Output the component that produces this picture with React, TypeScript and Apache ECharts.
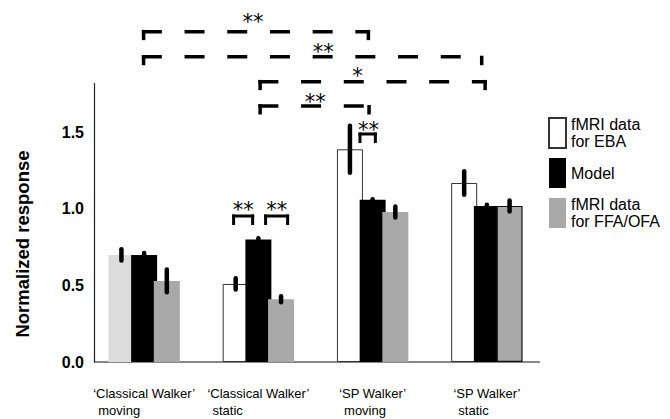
import { useEffect, useRef } from 'react';
import * as echarts from 'echarts';

// ---- data ----
const categoryNames = ['‘Classical Walker’', '‘Classical Walker’', '‘SP Walker’', '‘SP Walker’'];
const categoryStates = ['moving', 'static', 'moving', 'static'];
const seriesNames = ['fMRI data\nfor EBA', 'Model', 'fMRI data\nfor FFA/OFA'];

const ebaValues = [0.70, 0.51, 1.39, 1.17];
const ebaErrors = [0.037, 0.037, 0.154, 0.077];
const modelValues = [0.70, 0.80, 1.06, 1.02];
const modelErrors = [0.012, 0.008, 0.004, 0.008];
const ffaValues = [0.53, 0.41, 0.98, 1.02];
const ffaErrors = [0.074, 0.019, 0.036, 0.036];

const yMin = 0;
const yMax = 1.82;
const yInterval = 0.5;

// significance brackets: x in category units (0 = first category centre), y in data units
const bracketLabels = ['**', '**', '*', '**', '**', '**', '**'];
const bracketLeft = [-0.02, -0.02, 1.0, 1.0, 1.876, 0.77, 1.05];
const bracketRight = [1.978, 2.97, 3.0, 1.984, 2.037, 0.963, 1.269];
const bracketLevel = [2.159, 1.995, 1.832, 1.673, 1.49, 0.954, 0.954];
const bracketDashed = [true, true, true, true, false, false, false];
const bracketRightCorner = [true, false, true, false, true, true, true];
const bracketLabelX = [0.954, 1.567, 1.867, 1.497, 1.963, 0.867, 1.16];
const bracketLabelLevel = [2.257, 2.061, 1.902, 1.734, 1.549, 1.026, 1.026];

// ---- styling constants ----
const FONT = "'Liberation Sans', Arial, Helvetica, sans-serif";
const BAR_WIDTH = 26;
const BAR_GAP = -0.127;
const BAR_STEP = BAR_WIDTH * (1 + BAR_GAP);
const Y_AXIS_SHIFT = 7;
const AXIS_RIGHT = 540;

export default function App() {
  const ref = useRef<HTMLDivElement>(null);

  useEffect(() => {
    if (!ref.current) return;
    const chart = echarts.init(ref.current, undefined, { renderer: 'svg' });

    const errData: number[][] = [];
    const groups = [
      [ebaValues, ebaErrors],
      [modelValues, modelErrors],
      [ffaValues, ffaErrors],
    ];
    groups.forEach(([vals, errs], slot) => {
      vals.forEach((v, i) => errData.push([i, v, errs[i], slot]));
    });

    const option: any = {
      animation: false,
      grid: { left: 87, right: 126, top: 83.5, bottom: 57 },
      legend: {
        data: seriesNames,
        orient: 'vertical',
        left: 543,
        top: 111,
        icon: 'rect',
        itemWidth: 17,
        itemHeight: 30,
        itemGap: 8,
        selectedMode: false,
        textStyle: { fontSize: 16, lineHeight: 17, color: '#000', fontFamily: FONT },
      },
      xAxis: {
        type: 'category',
        data: categoryNames.map((n, i) => n + '\n' + categoryStates[i]),
        axisLine: { show: false },
        axisTick: { show: true, inside: true, alignWithLabel: true, length: 4, lineStyle: { color: '#000', width: 1 } },
        axisLabel: {
          interval: 0,
          hideOverlap: false,
          margin: 23,
          formatter: (v: string) => {
            const [a, b] = v.split('\n');
            return `{t|${a}}\n{s|${b}}`;
          },
          rich: {
            t: { fontSize: 13, lineHeight: 17, fontFamily: FONT, color: '#000' },
            s: { fontSize: 13, lineHeight: 17, fontFamily: FONT, color: '#000', align: 'left', padding: [0, 0, 0, 5] },
          },
        },
      },
      yAxis: {
        type: 'value',
        min: yMin,
        max: yMax,
        interval: yInterval,
        offset: -Y_AXIS_SHIFT,
        axisLine: { show: true, lineStyle: { color: '#222', width: 1.2 } },
        axisTick: { show: false },
        splitLine: { show: false },
        axisLabel: {
          showMaxLabel: false,
          margin: 10,
          fontSize: 16,
          fontWeight: 'bold',
          color: '#000',
          fontFamily: FONT,
          formatter: (v: number) => v.toFixed(1),
        },
      },
      series: [
        {
          name: seriesNames[0],
          type: 'bar',
          barWidth: BAR_WIDTH,
          barGap: `${BAR_GAP * 100}%`,
          itemStyle: { color: '#ffffff', borderColor: '#333', borderWidth: 1 },
          data: ebaValues.map((v, i) =>
            i === 0 ? { value: v, itemStyle: { color: '#dcdcdc', borderWidth: 0 } } : v
          ),
        },
        {
          name: seriesNames[1],
          type: 'bar',
          barWidth: BAR_WIDTH,
          barGap: `${BAR_GAP * 100}%`,
          itemStyle: { color: '#000000' },
          data: modelValues,
        },
        {
          name: seriesNames[2],
          type: 'bar',
          barWidth: BAR_WIDTH,
          barGap: `${BAR_GAP * 100}%`,
          itemStyle: { color: '#a9a9a9' },
          data: ffaValues.map((v, i) =>
            i === 3 ? { value: v, itemStyle: { borderColor: '#111', borderWidth: 1.2 } } : v
          ),
        },
        {
          name: 'error',
          type: 'custom',
          z: 5,
          silent: true,
          encode: { x: 0, y: 1 },
          data: errData,
          renderItem: (_params: any, api: any) => {
            const cat = api.value(0);
            const val = api.value(1);
            const err = api.value(2);
            const slot = api.value(3);
            const top = api.coord([cat, val + err]);
            const bot = api.coord([cat, val - err]);
            const dx = (slot - 1) * BAR_STEP;
            return {
              type: 'line',
              shape: { x1: top[0] + dx, y1: top[1], x2: bot[0] + dx, y2: bot[1] },
              style: { stroke: '#000', lineWidth: 4.5, lineCap: 'round' },
            };
          },
        },
      ],
    };

    chart.setOption(option);

    const p0 = chart.convertToPixel({ xAxisIndex: 0 } as any, 0) as unknown as number;
    const p1 = chart.convertToPixel({ xAxisIndex: 0 } as any, 1) as unknown as number;
    const cx = (u: number) => p0 + u * (p1 - p0);
    const cy = (v: number) => chart.convertToPixel({ yAxisIndex: 0 } as any, v) as unknown as number;
    const yAxisX = 87 + Y_AXIS_SHIFT;

    const graphic: any[] = [
      {
        type: 'text',
        x: 22,
        y: 244,
        rotation: Math.PI / 2,
        style: {
          text: 'Normalized response',
          fontSize: 18.5,
          fontWeight: 'bold',
          fontFamily: FONT,
          fill: '#000',
          textAlign: 'center',
          textVerticalAlign: 'middle',
        },
      },
      {
        type: 'line',
        shape: { x1: yAxisX, y1: cy(0), x2: AXIS_RIGHT, y2: cy(0) },
        style: { stroke: '#111', lineWidth: 1.2 },
      },
    ];

    bracketLabels.forEach((lab, i) => {
      const xl = cx(bracketLeft[i]);
      const xr = cx(bracketRight[i]);
      const y = cy(bracketLevel[i]);
      const dashed = bracketDashed[i];
      const lw = dashed ? 3.5 : 3;
      const tick = dashed ? 8.5 : 9;
      graphic.push({
        type: 'line',
        shape: { x1: xl, y1: y, x2: xr, y2: y },
        style: { stroke: '#000', lineWidth: lw, lineDash: dashed ? [20, 22.7] : null, lineCap: 'butt' },
      });
      graphic.push({
        type: 'line',
        shape: { x1: xl + lw / 2, y1: y - lw / 2, x2: xl + lw / 2, y2: y + tick },
        style: { stroke: '#000', lineWidth: lw },
      });
      graphic.push({
        type: 'line',
        shape: {
          x1: xr - lw / 2,
          y1: bracketRightCorner[i] ? y - lw / 2 : y - 1,
          x2: xr - lw / 2,
          y2: y + tick,
        },
        style: { stroke: '#000', lineWidth: lw },
      });
      graphic.push({
        type: 'text',
        x: cx(bracketLabelX[i]),
        y: cy(bracketLabelLevel[i]) + 5,
        style: {
          text: lab,
          fontSize: 21,
          fontFamily: "'DejaVu Sans', sans-serif",
          fill: '#000000',
          textAlign: 'center',
          textVerticalAlign: 'middle',
        },
      });
    });

    chart.setOption({ graphic });

    return () => chart.dispose();
  }, []);

  return (
    <div
      ref={ref}
      style={{ position: 'fixed', left: 0, top: 0, width: 670, height: 419, background: '#fff' }}
    />
  );
}
